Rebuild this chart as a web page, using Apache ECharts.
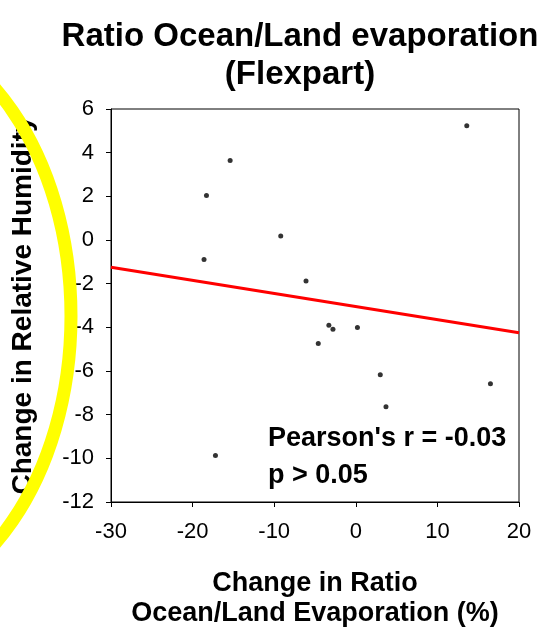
<!DOCTYPE html>
<html>
<head>
<meta charset="utf-8">
<script src="https://cdn.jsdelivr.net/npm/echarts@6/dist/echarts.min.js"></script>
<style>
html,body{margin:0;padding:0;background:#fff;}
#chart{width:553px;height:627px;}
</style>
</head>
<body>
<div id="chart"></div>
<script>
var titleText = "Ratio Ocean/Land evaporation\n(Flexpart)";
var xAxisName = "Change in Ratio\nOcean/Land Evaporation (%)";
var yAxisName = "Change in Relative Humidity";
var annotation = "Pearson's r = -0.03\np > 0.05";
var xValues = [13.6, -15.4, -18.3, -9.2, -18.6, -6.1, -3.3, -2.8, 0.2, -4.6, 3.0, 16.5, 3.7, -17.2];
var yValues = [5.23, 3.64, 2.04, 0.18, -0.89, -1.88, -3.90, -4.09, -4.01, -4.74, -6.17, -6.58, -7.64, -9.87];
var trendX = [-30, 20];
var trendY = [-1.25, -4.25];

var points = xValues.map(function (x, i) { return [x, yValues[i]]; });
var trend = trendX.map(function (x, i) { return [x, trendY[i]]; });

var FONT = "Liberation Sans, Arial, sans-serif";
var chart = echarts.init(document.getElementById('chart'));
chart.setOption({
  backgroundColor: '#fff',
  animation: false,
  grid: {
    left: 111, right: 34, top: 109, bottom: 125,
    containLabel: false, outerBoundsMode: 'none',
    show: true, borderColor: '#000', borderWidth: 1, backgroundColor: 'transparent'
  },
  xAxis: {
    type: 'value', min: -30, max: 20, interval: 10,
    name: xAxisName, nameLocation: 'middle', nameGap: 67, nameMoveOverlap: false,
    nameTextStyle: { fontFamily: FONT, fontWeight: 'bold', fontSize: 27, lineHeight: 30, color: '#000' },
    axisLine: { onZero: false, lineStyle: { color: '#000', width: 1 } },
    axisTick: { show: true, inside: false, length: 5, lineStyle: { color: '#000' } },
    axisLabel: { fontFamily: FONT, fontSize: 22, color: '#000', margin: 19 },
    splitLine: { show: false }
  },
  yAxis: {
    type: 'value', min: -12, max: 6, interval: 2,
    name: yAxisName, nameLocation: 'middle', nameGap: 74, nameRotate: 90, nameMoveOverlap: false,
    nameTextStyle: { fontFamily: FONT, fontWeight: 'bold', fontSize: 28, color: '#000' },
    axisLine: { show: true, onZero: false, lineStyle: { color: '#000', width: 1 } },
    axisTick: { show: true, inside: false, length: 5, lineStyle: { color: '#000' } },
    axisLabel: { fontFamily: FONT, fontSize: 22, color: '#000', margin: 17 },
    splitLine: { show: false }
  },
  series: [
    {
      type: 'line', data: trend, symbol: 'none',
      lineStyle: { color: '#ff0000', width: 3 }, z: 2
    },
    {
      type: 'scatter', data: points, symbol: 'circle', symbolSize: 5,
      itemStyle: { color: '#000' }, z: 3
    }
  ],
  graphic: [
    {
      type: 'text', x: 300, y: 18, z: 10,
      style: { text: titleText, font: 'bold 33px ' + FONT, lineHeight: 38, fill: '#000', textAlign: 'center', textVerticalAlign: 'top' }
    },
    {
      type: 'text', left: 268, top: 420, z: 10,
      style: { text: annotation, font: 'bold 27px ' + FONT, lineHeight: 37, fill: '#000' }
    },
    {
      type: 'ellipse', z: 100,
      shape: { cx: -129, cy: 316, rx: 200, ry: 290 },
      style: { fill: 'none', stroke: '#ffff00', lineWidth: 13 }
    }
  ]
});
</script>
</body>
</html>
